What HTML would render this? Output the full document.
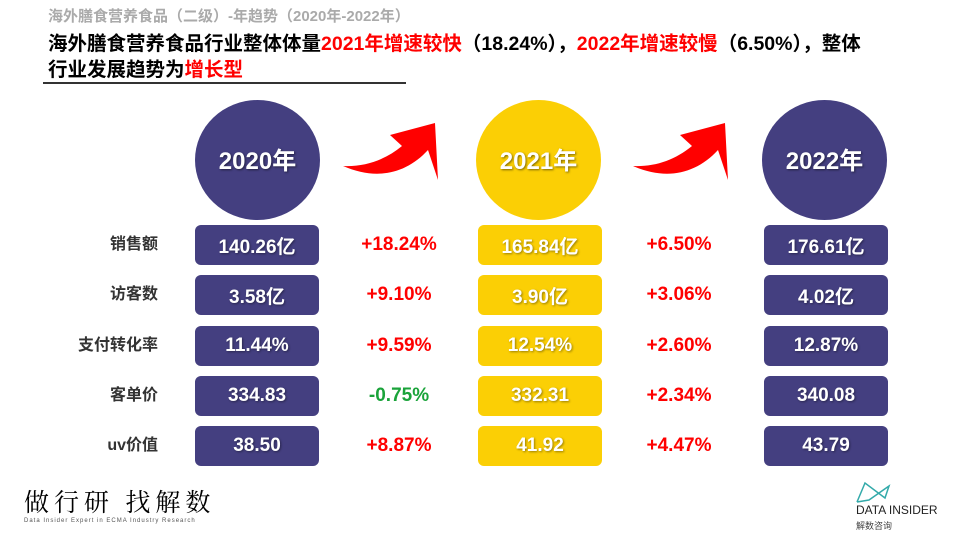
<!DOCTYPE html>
<html><head><meta charset="utf-8"><style>
body{margin:0;width:960px;height:540px;background:#fff;position:relative;overflow:hidden;font-family:"Liberation Sans","Noto Sans CJK SC",sans-serif}
.a{position:absolute}
.sub{left:48px;top:7px;font-size:15px;line-height:20px;color:#aaa;font-weight:bold}
.t{left:48px;font-size:19.5px;line-height:26px;font-weight:bold;color:#000;white-space:nowrap}
.r{color:#f00}
.c{width:125px;height:120px;border-radius:50%;color:#fff;font-size:24px;font-weight:bold;display:flex;align-items:center;justify-content:center;top:100px;text-shadow:1px 1px 2px rgba(0,0,0,.5)}
.c span{margin-top:-4px}
.b{width:124px;height:40px;border-radius:6px;color:#fff;font-size:19px;font-weight:bold;display:flex;align-items:center;justify-content:center;text-shadow:1px 1px 2px rgba(0,0,0,.4)}
.p{background:#443f80}.y{background:#fbcf05}
.l{width:120px;left:38px;text-align:right;font-size:16px;font-weight:bold;color:#333;line-height:40px}
.g{width:130px;text-align:center;font-size:19px;font-weight:bold;line-height:40px;color:#f00}
</style></head><body>
<div class="a sub">海外膳食营养食品（二级）-年趋势（2020年-2022年）</div>
<div class="a t" style="top:31px">海外膳食营养食品行业整体体量<span class="r">2021年增速较快</span>（18.24%），<span class="r">2022年增速较慢</span>（6.50%），整体</div>
<div class="a t" style="top:57px">行业发展趋势为<span class="r">增长型</span></div>
<div class="a" style="left:43px;top:82px;width:363px;height:2px;background:#333"></div>

<div class="a c p" style="left:195px"><span>2020年</span></div>
<div class="a c y" style="left:476px"><span>2021年</span></div>
<div class="a c p" style="left:762px"><span>2022年</span></div>

<svg class="a" style="left:0;top:0" width="960" height="540">
<path d="M343,166 C375,180 405,175 428,150 L438,180 L435,123 L390,135 L402,146 C385,160 365,167 343,166Z" fill="#f00"/>
<path d="M633,166 C665,180 695,175 718,150 L728,180 L725,123 L680,135 L692,146 C675,160 655,167 633,166Z" fill="#f00"/>
</svg>

<div class="a l" style="top:225px">销售额</div>
<div class="a l" style="top:275px">访客数</div>
<div class="a l" style="top:326px">支付转化率</div>
<div class="a l" style="top:376px">客单价</div>
<div class="a l" style="top:426px">uv价值</div>

<div class="a b p" style="left:195px;top:225px">140.26亿</div>
<div class="a b p" style="left:195px;top:275px">3.58亿</div>
<div class="a b p" style="left:195px;top:326px">11.44%</div>
<div class="a b p" style="left:195px;top:376px">334.83</div>
<div class="a b p" style="left:195px;top:426px">38.50</div>

<div class="a b y" style="left:478px;top:225px">165.84亿</div>
<div class="a b y" style="left:478px;top:275px">3.90亿</div>
<div class="a b y" style="left:478px;top:326px">12.54%</div>
<div class="a b y" style="left:478px;top:376px">332.31</div>
<div class="a b y" style="left:478px;top:426px">41.92</div>

<div class="a b p" style="left:764px;top:225px">176.61亿</div>
<div class="a b p" style="left:764px;top:275px">4.02亿</div>
<div class="a b p" style="left:764px;top:326px">12.87%</div>
<div class="a b p" style="left:764px;top:376px">340.08</div>
<div class="a b p" style="left:764px;top:426px">43.79</div>

<div class="a g" style="left:334px;top:225px">+18.24%</div>
<div class="a g" style="left:334px;top:275px">+9.10%</div>
<div class="a g" style="left:334px;top:326px">+9.59%</div>
<div class="a g" style="left:334px;top:376px;color:#1aa33a">-0.75%</div>
<div class="a g" style="left:334px;top:426px">+8.87%</div>

<div class="a g" style="left:614px;top:225px">+6.50%</div>
<div class="a g" style="left:614px;top:275px">+3.06%</div>
<div class="a g" style="left:614px;top:326px">+2.60%</div>
<div class="a g" style="left:614px;top:376px">+2.34%</div>
<div class="a g" style="left:614px;top:426px">+4.47%</div>

<div class="a" style="left:24px;top:483px;font-size:25px;color:#000;letter-spacing:5px;font-family:'Noto Serif CJK SC',serif">做行研 找解数</div>
<div class="a" style="left:24px;top:518px;font-size:6px;color:#555;letter-spacing:1px">Data Insider Expert in ECMA Industry Research</div>
<svg class="a" style="left:855px;top:480px" width="40" height="25"><path d="M2,22 L10,3 L30,18 L34,6 L14,20 L2,22" fill="none" stroke="#3aa" stroke-width="1.5"/></svg>
<div class="a" style="left:856px;top:503px;font-size:12px;color:#222">DATA INSIDER</div>
<div class="a" style="left:856px;top:519px;font-size:9px;color:#444">解数咨询</div>
</body></html>
